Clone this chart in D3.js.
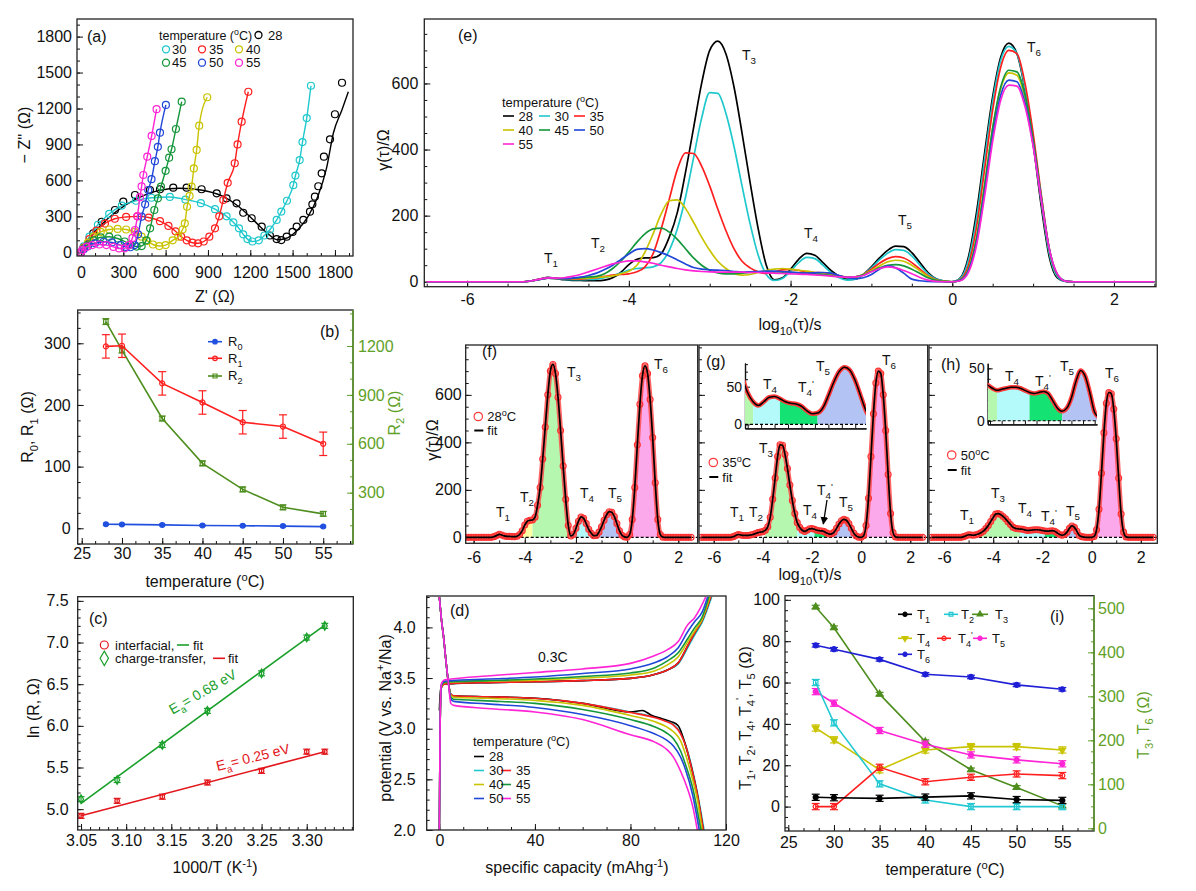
<!DOCTYPE html>
<html>
<head>
<meta charset="utf-8">
<script src="https://cdn.jsdelivr.net/npm/d3@7"></script>
<style>
  body { margin: 0; background: #fff; }
  text { font-family: "Liberation Sans", Arial, Helvetica, sans-serif; }
</style>
</head>
<body>
<script>
"use strict";

// ---------------- data ----------------
const temps = [28, 30, 35, 40, 45, 50, 55];

// (a) Nyquist plots, [Z', -Z''] in ohm
const nyq28 = [[0,0],[16,33],[87,159],[147,255],[241,353],[300,423],[383,478],[489,520],[560,526],[654,539],[749,539],[855,526],[962,492],[1032,450],[1103,409],[1150,330],[1210,284],[1281,214],[1339,140],[1387,110],[1420,102],[1458,130],[1500,170],[1529,214],[1576,270],[1623,339],[1640,400],[1658,464],[1682,551],[1706,659],[1722,798],[1765,943],[1800,1152],[1850,1415]];
const fit28 = [[0,0],[40,90],[120,200],[250,340],[400,450],[550,515],[700,535],[850,520],[1000,470],[1120,380],[1230,260],[1320,160],[1390,105],[1450,115],[1530,180],[1610,300],[1680,470],[1740,700],[1790,1000],[1850,1190],[1895,1340]];
const nyq30 = [[0,0],[20,50],[60,130],[120,230],[200,320],[290,390],[390,430],[500,455],[630,462],[740,440],[850,410],[950,360],[1032,300],[1080,250],[1120,200],[1150,150],[1180,110],[1215,90],[1260,100],[1300,140],[1340,190],[1387,270],[1420,340],[1460,430],[1505,560],[1520,640],[1550,770],[1570,920],[1600,1120],[1630,1390]];
const nyq35 = [[0,0],[20,40],[60,110],[110,180],[170,240],[240,280],[320,295],[400,300],[480,290],[560,260],[620,220],[670,175],[710,130],[750,100],[790,80],[830,75],[870,90],[910,130],[950,200],[980,300],[1009,437],[1040,580],[1090,743],[1110,900],[1139,1090],[1186,1340]];
const nyq40 = [[0,0],[20,35],[50,80],[90,130],[140,170],[200,190],[260,195],[320,190],[380,170],[430,130],[470,95],[510,65],[555,52],[600,60],[650,100],[690,130],[720,190],[736,242],[752,380],[770,470],[784,548],[800,700],[820,854],[838,1057],[895,1294]];
const nyq45 = [[0,0],[20,30],[50,65],[90,100],[140,125],[200,130],[260,115],[310,90],[350,62],[395,48],[430,52],[463,100],[490,200],[520,353],[545,450],[567,548],[600,680],[625,790],[642,860],[673,1029],[714,1257]];
const nyq50 = [[0,0],[20,25],[50,50],[100,75],[160,88],[220,82],[280,60],[320,45],[350,42],[380,60],[405,150],[430,297],[455,400],[477,520],[500,610],[524,760],[545,880],[560,998],[602,1230]];
const nyq55 = [[0,0],[10,20],[40,45],[80,60],[130,65],[180,60],[230,45],[270,32],[310,33],[340,60],[365,120],[383,186],[400,300],[418,460],[430,550],[442,645],[470,798],[501,971],[536,1194]];

// (b) fitted resistances vs temperature
const r0 = [6.5, 6.3, 5.5, 4.6, 4.2, 3.5, 2.7];
const r0Err = [1.5, 1.5, 1.5, 1.5, 1.5, 1.5, 1.5];
const r1 = [295, 296, 235, 204, 172, 165, 137];
const r1Err = [19, 19, 19, 19, 19, 19, 19];
const r2 = [1350, 1175, 755, 480, 320, 210, 170];
const r2Err = [18, 18, 15, 15, 15, 15, 15];

// (c) Arrhenius plot
const invT = [3.05, 3.09, 3.14, 3.19, 3.25, 3.30, 3.32];
const lnInterf = [4.92, 5.10, 5.15, 5.32, 5.46, 5.69, 5.69];
const lnCharge = [5.12, 5.35, 5.77, 6.18, 6.63, 7.06, 7.20];
const lnErr = [0.03, 0.03, 0.03, 0.03, 0.03, 0.03, 0.03];
const fitInvT = [3.05, 3.32];
const fitInterf = [4.92, 5.69];
const fitCharge = [5.07, 7.21];

// (d) charge / discharge curves, [capacity, potential]
const chg28 = [[0,3.18],[0.5,3.38],[1.5,3.44],[5,3.445],[20,3.455],[40,3.463],[60,3.475],[80,3.497],[90,3.535],[95.5,3.58],[100,3.65],[104,3.82],[107,3.95],[110,4.07],[113.6,4.3]];
const chg30 = [[0,2.0],[0.3,3.0],[0.8,3.4],[2,3.44],[5,3.445],[20,3.455],[40,3.463],[60,3.475],[80,3.497],[90,3.535],[95.5,3.58],[100,3.64],[104,3.8],[107,3.93],[110,4.05],[114,4.3]];
const chg35 = [[0,2.0],[0.3,3.0],[0.8,3.4],[2,3.44],[5,3.445],[20,3.455],[40,3.463],[60,3.475],[80,3.497],[90,3.535],[95.5,3.58],[100,3.65],[104,3.82],[107,3.95],[110,4.07],[113.6,4.3]];
const chg40 = [[0,2.0],[0.3,3.0],[0.8,3.41],[2,3.455],[5,3.46],[20,3.47],[40,3.48],[60,3.5],[80,3.53],[90,3.57],[95.5,3.63],[100,3.71],[104,3.86],[107,3.97],[110,4.08],[113.2,4.3]];
const chg45 = [[0,2.0],[0.3,3.0],[0.8,3.42],[2,3.46],[5,3.465],[20,3.475],[40,3.49],[60,3.515],[80,3.55],[90,3.6],[95.5,3.67],[100,3.75],[104,3.89],[107,4.0],[110,4.1],[112.8,4.3]];
const chg50 = [[0,2.0],[0.3,3.0],[0.8,3.43],[2,3.47],[5,3.475],[20,3.49],[40,3.51],[60,3.545],[80,3.59],[90,3.65],[95.5,3.71],[100,3.8],[104,3.96],[107,4.06],[110,4.15],[112.3,4.3]];
const chg55 = [[0,2.0],[0.3,3.0],[0.8,3.44],[2,3.48],[5,3.49],[20,3.52],[40,3.555],[60,3.59],[80,3.645],[90,3.72],[95.5,3.78],[100,3.86],[103.8,4.02],[107,4.1],[109,4.18],[111.5,4.3]];
const dis28 = [[0,4.3],[1,4.05],[1.7,3.92],[2.8,3.66],[3.8,3.45],[4.8,3.34],[6,3.325],[20,3.315],[40,3.30],[60,3.25],[80,3.165],[85,3.18],[89,3.13],[93,3.10],[97,3.07],[100,3.03],[103,2.84],[106,2.57],[108,2.35],[110.5,2.0]];
const dis30 = [[0,4.3],[1,4.05],[1.7,3.92],[2.8,3.66],[3.8,3.45],[4.8,3.34],[6,3.325],[20,3.315],[40,3.30],[60,3.25],[80,3.165],[90,3.115],[95,3.075],[98,3.04],[101,2.96],[103,2.85],[106,2.59],[108,2.37],[110.8,2.0]];
const dis35 = [[0,4.3],[1,4.05],[1.7,3.92],[2.8,3.66],[3.8,3.45],[4.8,3.34],[6,3.325],[20,3.315],[40,3.30],[60,3.25],[80,3.16],[90,3.11],[95,3.07],[98,3.035],[101,2.95],[103,2.84],[106,2.57],[108,2.35],[110.5,2.0]];
const dis40 = [[0,4.3],[1,4.05],[1.7,3.92],[2.8,3.66],[3.8,3.45],[4.8,3.33],[6,3.31],[20,3.30],[40,3.28],[60,3.23],[80,3.13],[90,3.07],[95,3.02],[98,2.97],[101,2.88],[103,2.75],[106,2.5],[108,2.3],[110,2.0]];
const dis45 = [[0,4.3],[1,4.05],[1.7,3.92],[2.8,3.66],[3.8,3.45],[4.8,3.31],[6,3.29],[20,3.275],[40,3.25],[60,3.19],[80,3.09],[90,3.02],[95,2.96],[98,2.9],[101,2.78],[103,2.65],[106,2.42],[109.5,2.0]];
const dis50 = [[0,4.3],[1,4.05],[1.7,3.92],[2.8,3.66],[3.8,3.45],[4.8,3.29],[6,3.27],[20,3.245],[40,3.21],[60,3.14],[80,3.03],[90,2.95],[95,2.89],[98,2.83],[101,2.72],[103,2.6],[106,2.35],[108.8,2.0]];
const dis55 = [[0,4.3],[1,4.05],[1.7,3.92],[2.8,3.66],[3.8,3.45],[4.8,3.25],[6,3.23],[20,3.2],[40,3.165],[60,3.09],[80,2.94],[90,2.87],[95,2.8],[98,2.72],[101,2.58],[104,2.4],[106,2.24],[108,2.0]];

// (e)-(h) DRT, sampled every 0.1 in log10(tau) from -6.5 to 2.5
const tauGrid = d3.range(-65, 26).map(i => i / 10);
const drt28 = [0,0,0,0,0,0,0,0,0,0,0,0,0, 3,8,13,10,6,4,4,3,3,5,12,28, 52,68,72,73,85,135,210,330,465,600, 700,728,690,590,450,300,160,50,6,12, 38,68,86,80,58,34,17,7,8,22, 45,72,95,108,106,88,58,28,9,2, 0,12,75,210,390,560,680,722,690,580, 420,230,75,12,1,0, 0,0,0,0,0,0,0,0,0,0];
const drt30 = [0,0,0,0,0,0,0,0,0,0,0,0,0, 3,8,12,10,7,6,6,7,8,12,18,26, 35,40,42,45,58,95,160,255,375,495, 572,570,510,410,290,175,80,22,4,10, 32,58,74,70,50,28,12,5,8,22, 42,66,86,97,95,78,50,24,8,2, 0,10,65,190,370,545,670,712,690,585, 430,245,85,15,1,0, 0,0,0,0,0,0,0,0,0,0];
const drt35 = [0,0,0,0,0,0,0,0,0,0,0,0,0, 3,8,12,10,8,8,8,10,12,16,20,22, 24,30,45,85,160,250,340,390,388,350, 290,220,155,100,62,42,30,25,30,36, 37,34,30,28,27,24,18,14,15,22, 38,56,70,76,72,58,38,18,6,1, 0,7,50,165,340,520,650,700,690,600, 450,265,100,20,2,0, 0,0,0,0,0,0,0,0,0,0];
const drt40 = [0,0,0,0,0,0,0,0,0,0,0,0,0, 3,7,11,10,9,9,10,11,13,15,18,24, 32,50,90,145,205,245,248,222,180,135, 95,62,40,25,20,22,28,34,38,40, 38,35,32,28,24,20,16,13,14,22, 34,48,60,65,62,50,33,16,5,1, 0,5,38,135,295,465,585,632,625,555, 420,250,95,20,2,0, 0,0,0,0,0,0,0,0,0,0];
const drt45 = [0,0,0,0,0,0,0,0,0,0,0,0,0, 3,7,11,10,9,10,12,14,16,24,40,62, 90,120,145,160,162,150,128,100,72,50, 35,27,24,24,26,28,30,30,30,29, 28,27,26,24,22,19,16,14,15,21, 31,42,50,52,48,38,25,12,4,1, 0,5,36,130,290,465,590,640,635,565, 430,260,100,22,2,0, 0,0,0,0,0,0,0,0,0,0];
const drt50 = [0,0,0,0,0,0,0,0,0,0,0,0,0, 3,7,11,10,9,11,14,19,26,37,50,67, 84,98,100,96,88,78,66,54,43,38, 36,35,34,31,29,30,31,32,32,31, 29,27,26,27,28,26,19,12,9,12, 22,38,48,42,26,8,3,1,0,0, 0,4,32,118,270,440,565,610,605,540, 415,250,98,22,2,0, 0,0,0,0,0,0,0,0,0,0];
const drt55 = [0,0,0,0,0,0,0,0,0,0,0,0,0, 3,8,12,11,12,16,22,30,38,46,54,59, 63,63,60,56,50,45,40,36,33,31, 30,29,29,29,29,28,28,27,26,25, 24,23,22,21,19,17,15,14,15,19, 30,40,45,42,34,24,13,5,1,0, 0,3,28,110,258,425,550,595,592,530, 410,250,100,24,2,0, 0,0,0,0,0,0,0,0,0,0];

// component ranges (log10 tau) used for the shaded peaks in (f)-(h)
const segF = [[-4.3,-3.7,'T2'],[-3.7,-2.2,'T3'],[-2.2,-1.3,'T4'],[-1.3,-0.1,'T5'],[0.0,1.5,'T6']];
const segG = [[-3.9,-2.6,'T3'],[-2.6,-1.9,'T4'],[-1.9,-1.2,'T4p'],[-1.2,-0.1,'T5'],[0.0,1.5,'T6']];
const segH = [[-4.6,-2.9,'T3'],[-2.9,-1.9,'T4'],[-1.9,-1.2,'T4p'],[-1.2,-0.3,'T5'],[0.0,1.5,'T6']];
const segGi = [[-2.6,-2.4,'T3'],[-2.4,-1.9,'T4'],[-1.9,-1.2,'T4p'],[-1.2,-0.3,'T5']];
const segHi = [[-2.8,-2.6,'T3'],[-2.6,-1.9,'T4'],[-1.9,-1.2,'T4p'],[-1.2,-0.4,'T5']];

// (i) peak values vs temperature
const tT1 = [4.5, 4.3, 4.0, 4.6, 5.2, 3.4, 3.0];
const tT2 = [60, 40.5, 11, 3.2, 0, 0, 0];
const tT3 = [503, 456, 305, 197, 133, 93, 51];
const tT4 = [38, 32.3, 17.8, 27.4, 29, 29, 27.4];
const tT4p = [0, 0, 19, 12, 14.2, 15.8, 15];
const tT5 = [55.6, 50, 36.8, 30.2, 25, 22.6, 20.7];
const tT6 = [416, 407, 384, 350, 344, 326, 316];
const tErrL = [1.5, 1.5, 1.5, 1.5, 1.5, 1.5, 1.5];
const tErrR = [4, 4, 4, 4, 4, 4, 4];

// ---------------- styles ----------------
const tempColors = ['#000000', '#1ec8cc', '#ff1f1f', '#c9c300', '#14963a', '#2147d9', '#ff24d5'];
const axGreen = '#5fa127';
const lineGreen = '#4e8e1e';
const compColors = { T2: '#ffffa6', T3: '#b6f7b0', T4: '#b4fafa', T4p: '#14e272', T5: '#b3c3f3', T6: '#fba9ea' };

const svg = d3.select('body').append('svg').attr('width', 1196).attr('height', 891);
const defs = svg.append('defs');

// text with _{sub} and ^{sup}
function rich(t, str, fs) {
  const re = /([_^])\{([^}]*)\}/g;
  let last = 0, cur = 0, m;
  const add = (s, off, size) => {
    if (!s) return;
    t.append('tspan').attr('dy', (off - cur).toFixed(2)).attr('font-size', size).text(s);
    cur = off;
  };
  while ((m = re.exec(str)) !== null) {
    add(str.slice(last, m.index), 0, fs);
    add(m[2], m[1] === '_' ? fs * 0.3 : -fs * 0.38, fs * 0.7);
    last = re.lastIndex;
  }
  add(str.slice(last), 0, fs);
}
function label(x, y, str, o = {}) {
  const fs = o.size || 16;
  const t = svg.append('text').attr('x', x).attr('y', y).attr('font-size', fs)
    .attr('fill', o.color || '#111').attr('text-anchor', o.anchor || 'start');
  if (o.rotate) t.attr('transform', `rotate(${o.rotate},${x},${y})`);
  rich(t, str, fs);
  return t;
}

function makePanel(b, xd, yd) {
  return { b, x: d3.scaleLinear(xd, [b.x0, b.x1]), y: d3.scaleLinear(yd, [b.y1, b.y0]) };
}
function frame(p) {
  svg.append('rect').attr('x', p.b.x0).attr('y', p.b.y0)
    .attr('width', p.b.x1 - p.b.x0).attr('height', p.b.y1 - p.b.y0)
    .attr('fill', 'none').attr('stroke', '#222').attr('stroke-width', 1.3);
}
function clipG(p, id) {
  defs.append('clipPath').attr('id', id).append('rect')
    .attr('x', p.b.x0).attr('y', p.b.y0).attr('width', p.b.x1 - p.b.x0).attr('height', p.b.y1 - p.b.y0);
  return svg.append('g').attr('clip-path', `url(#${id})`);
}
// inward ticks, labels outside
function axis(p, side, major, minor, o = {}) {
  const sc = o.scale || (side === 'bottom' ? p.x : p.y);
  const [lo, hi] = d3.extent(sc.domain());
  minor = minor.filter(v => v >= lo - 1e-9 && v <= hi + 1e-9);
  const gen = { left: d3.axisLeft, right: d3.axisRight, bottom: d3.axisBottom }[side];
  const pos = side === 'left' ? `translate(${p.b.x0},0)` : side === 'right' ? `translate(${p.b.x1},0)` : `translate(0,${p.b.y1})`;
  const color = o.color || '#111';
  const gm = svg.append('g').attr('transform', pos);
  gm.call(gen(sc).tickValues(minor).tickSize(-(o.minor || 3)).tickSizeOuter(0).tickFormat(''));
  const g = svg.append('g').attr('transform', pos);
  g.call(gen(sc).tickValues(major).tickSize(-(o.major || 6)).tickSizeOuter(0)
    .tickPadding(o.pad || 5).tickFormat(o.fmt || (d => String(d))));
  [gm, g].forEach(s => {
    if (!o.keepDomain) s.select('.domain').remove();
    s.selectAll('path.domain').attr('stroke', color).attr('stroke-width', 1.2);
    s.selectAll('line').attr('stroke', color).attr('stroke-width', 1);
    s.selectAll('text').attr('font-size', o.fs || 16).attr('fill', color)
      .attr('font-family', '"Liberation Sans", Arial, sans-serif');
  });
}
function errorBars(g, xs, ys, errs, xS, yS, color, cap) {
  xs.forEach((xv, i) => {
    const px = xS(xv), ya = yS(ys[i] - errs[i]), yb = yS(ys[i] + errs[i]);
    g.append('line').attr('x1', px).attr('x2', px).attr('y1', ya).attr('y2', yb).attr('stroke', color).attr('stroke-width', 1.2);
    [ya, yb].forEach(yy => g.append('line').attr('x1', px - cap).attr('x2', px + cap)
      .attr('y1', yy).attr('y2', yy).attr('stroke', color).attr('stroke-width', 1.2));
  });
}
const symMap = { circle: d3.symbolCircle, square: d3.symbolSquare, tri: d3.symbolTriangle, tridown: d3.symbolTriangle, diamond: d3.symbolDiamond };
function marks(g, pts, color, type, filled, size) {
  g.selectAll(null).data(pts).join('path')
    .attr('transform', d => `translate(${d[0]},${d[1]})${type === 'tridown' ? ' rotate(180)' : ''}`)
    .attr('d', d3.symbol().type(symMap[type]).size(size || 22))
    .attr('fill', filled ? color : 'none').attr('stroke', color).attr('stroke-width', 1.2);
}
function seriesLine(g, xs, ys, xS, yS, color, w) {
  g.append('path').datum(xs.map((x, i) => [x, ys[i]]))
    .attr('d', d3.line().x(d => xS(d[0])).y(d => yS(d[1])))
    .attr('fill', 'none').attr('stroke', color).attr('stroke-width', w || 1.6);
}
function legendLine(g, x0, x1, y, color, type, filled, size) {
  g.append('line').attr('x1', x0).attr('x2', x1).attr('y1', y).attr('y2', y).attr('stroke', color).attr('stroke-width', 1.6);
  if (type) marks(g, [[(x0 + x1) / 2, y]], color, type, filled, size);
}

// ---------------- panels ----------------
const pA = makePanel({ x0: 77, x1: 353, y0: 19, y1: 256 }, [-28, 1928], [-31, 1947]);
const pB = makePanel({ x0: 77.7, x1: 353, y0: 310, y1: 544 }, [24.5, 58.7], [-25.5, 354]);
pB.y2 = d3.scaleLinear([-15, 1421], [544, 310]);
const pC = makePanel({ x0: 77.7, x1: 353.3, y0: 596.7, y1: 830 }, [3.0463, 3.3516], [4.75, 7.55]);
const pD = makePanel({ x0: 426.7, x1: 726, y0: 596, y1: 830 }, [-5.3, 120], [2.0, 4.31]);
const pE = makePanel({ x0: 424.3, x1: 1156, y0: 19, y1: 286.7 }, [-6.53, 2.52], [-15, 795]);
const pF = makePanel({ x0: 465.7, x1: 697.7, y0: 345, y1: 543.3 }, [-6.31, 2.76], [-25, 810]);
const pG = makePanel({ x0: 699, x1: 927.7, y0: 345, y1: 543.3 }, [-6.6, 2.71], [-25, 810]);
const pH = makePanel({ x0: 929, x1: 1157.3, y0: 345, y1: 543.3 }, [-6.61, 2.67], [-25, 810]);
const pGi = makePanel({ x0: 745, x1: 866, y0: 363, y1: 428.3 }, [-2.55, -0.3], [-5.3, 81.5]);
const pHi = makePanel({ x0: 987.7, x1: 1097, y0: 363.3, y1: 424.3 }, [-2.8, -0.45], [-3.4, 54.8]);
const pI = makePanel({ x0: 785, x1: 1094, y0: 595.7, y1: 831 }, [24.64, 58.47], [-11.8, 102]);
pI.y2 = d3.scaleLinear([-6.1, 528.7], [831, 595.7]);
const tempMinor = d3.range(25, 58.5, 5 / 3);

// ===== (a) =====
{
  axis(pA, 'left', d3.range(0, 1801, 300), d3.range(0, 1901, 100), { pad: 5 });
  axis(pA, 'bottom', d3.range(0, 1801, 300), d3.range(0, 1901, 100), { pad: 11 });
  const g = clipG(pA, 'clipA');
  const sets = [nyq28, nyq30, nyq35, nyq40, nyq45, nyq50, nyq55];
  const line = d3.line().x(d => pA.x(d[0])).y(d => pA.y(d[1])).curve(d3.curveMonotoneX);
  sets.forEach((s, i) => {
    g.append('path').datum(i === 0 ? fit28 : s).attr('d', line).attr('fill', 'none')
      .attr('stroke', tempColors[i]).attr('stroke-width', 1.4);
    g.selectAll(null).data(s).join('circle')
      .attr('cx', d => pA.x(d[0])).attr('cy', d => pA.y(d[1])).attr('r', 3.5)
      .attr('fill', 'none').attr('stroke', tempColors[i]).attr('stroke-width', 1.2);
  });
  frame(pA);
  label(87, 42, '(a)');
  label(159, 39.5, 'temperature (^{o}C)', { size: 12.5 });
  const lg = svg.append('g');
  const pos = [[258.5, 35, 268], [166, 49.3, 172], [202, 49.3, 209], [239, 49.3, 246], [166, 62.7, 172], [202, 62.7, 209], [239, 62.7, 246]];
  temps.forEach((t, i) => {
    lg.append('circle').attr('cx', pos[i][0]).attr('cy', pos[i][1]).attr('r', 3.5)
      .attr('fill', 'none').attr('stroke', tempColors[i]).attr('stroke-width', 1.3);
    label(pos[i][2], pos[i][1] + 4.7, String(t), { size: 13 });
  });
  label(215, 302, "Z' (Ω)", { anchor: 'middle' });
  label(30, 135, "− Z'' (Ω)", { anchor: 'middle', rotate: -90 });
}

// ===== (b) =====
{
  axis(pB, 'left', [0, 100, 200, 300], d3.range(-25, 351, 25), { pad: 7 });
  axis(pB, 'right', [300, 600, 900, 1200], d3.range(0, 1401, 100), { scale: pB.y2, color: axGreen, pad: 5 });
  axis(pB, 'bottom', d3.range(25, 56, 5), tempMinor, { pad: 4 });
  const g = svg.append('g');
  seriesLine(g, temps, r2, pB.x, pB.y2, lineGreen);
  errorBars(g, temps, r2, r2Err, pB.x, pB.y2, lineGreen, 3.5);
  marks(g, temps.map((t, i) => [pB.x(t), pB.y2(r2[i])]), lineGreen, 'square', false, 20);
  seriesLine(g, temps, r1, pB.x, pB.y, '#ff1f1f');
  errorBars(g, temps, r1, r1Err, pB.x, pB.y, '#ff1f1f', 4);
  marks(g, temps.map((t, i) => [pB.x(t), pB.y(r1[i])]), '#ff1f1f', 'circle', false, 20);
  seriesLine(g, temps, r0, pB.x, pB.y, '#2150e0');
  errorBars(g, temps, r0, r0Err, pB.x, pB.y, '#2150e0', 3);
  marks(g, temps.map((t, i) => [pB.x(t), pB.y(r0[i])]), '#2150e0', 'circle', true, 18);
  frame(pB);
  svg.append('line').attr('x1', pB.b.x1).attr('x2', pB.b.x1).attr('y1', pB.b.y0).attr('y2', pB.b.y1)
    .attr('stroke', axGreen).attr('stroke-width', 1.4);
  legendLine(g, 208, 222, 341.7, '#2150e0', 'circle', true, 16);
  legendLine(g, 208, 222, 358.3, '#ff1f1f', 'circle', false, 16);
  legendLine(g, 208, 222, 376, lineGreen, 'square', false, 16);
  label(228, 346, 'R_{0}', { size: 13 });
  label(228, 362.6, 'R_{1}', { size: 13 });
  label(228, 380.3, 'R_{2}', { size: 13 });
  label(320, 337, '(b)');
  label(205, 587, 'temperature (^{o}C)', { anchor: 'middle' });
  label(33, 427, 'R_{0}, R_{1} (Ω)', { anchor: 'middle', rotate: -90 });
  label(399.5, 413, 'R_{2} (Ω)', { anchor: 'middle', rotate: -90, color: axGreen });
}

// ===== (c) =====
{
  axis(pC, 'left', d3.range(5, 7.51, 0.5), d3.range(4.8, 7.56, 0.1), { pad: 9, fmt: d3.format('.1f') });
  axis(pC, 'bottom', d3.range(3.05, 3.301, 0.05), d3.range(3.05, 3.35, 0.01), { pad: 5, fmt: d3.format('.2f') });
  const g = svg.append('g');
  seriesLine(g, fitInvT, fitCharge, pC.x, pC.y, '#19a02a', 1.6);
  seriesLine(g, fitInvT, fitInterf, pC.x, pC.y, '#e3161b', 1.6);
  errorBars(g, invT, lnCharge, lnErr, pC.x, pC.y, '#19a02a', 3.5);
  marks(g, invT.map((t, i) => [pC.x(t), pC.y(lnCharge[i])]), '#19a02a', 'diamond', false, 22);
  errorBars(g, invT, lnInterf, lnErr, pC.x, pC.y, '#e3161b', 3.5);
  marks(g, invT.map((t, i) => [pC.x(t), pC.y(lnInterf[i])]), '#e3161b', 'circle', false, 16);
  frame(pC);
  marks(g, [[104.3, 645]], '#e3161b', 'circle', false, 50);
  marks(g, [[104.3, 658.3]], '#19a02a', 'diamond', false, 60);
  label(115, 649.5, 'interfacial,', { size: 13 });
  legendLine(g, 177, 189, 645, '#19a02a');
  label(193, 649.5, 'fit', { size: 13 });
  label(115, 663, 'charge-transfer,', { size: 13 });
  legendLine(g, 213, 225, 658.3, '#e3161b');
  label(228, 663, 'fit', { size: 13 });
  label(205, 696, 'E_{a}= 0.68 eV', { size: 14, color: '#19a02a', anchor: 'middle', rotate: -30 });
  label(254, 762, 'E_{a}= 0.25 eV', { size: 14, color: '#e3161b', anchor: 'middle', rotate: -14 });
  label(89, 624, '(c)');
  label(215, 873, '1000/T (K^{-1})', { anchor: 'middle' });
  label(38.5, 708, 'ln (R, Ω)', { anchor: 'middle', rotate: -90 });
}

// ===== (d) =====
{
  axis(pD, 'left', [2.0, 2.5, 3.0, 3.5, 4.0], d3.range(2.0, 4.31, 0.1), { pad: 11, fmt: d3.format('.1f') });
  axis(pD, 'bottom', [0, 40, 80, 120], d3.range(0, 121, 10), { pad: 5 });
  const g = clipG(pD, 'clipD');
  const line = d3.line().x(d => pD.x(d[0])).y(d => pD.y(d[1])).curve(d3.curveMonotoneX);
  const chg = [chg28, chg30, chg35, chg40, chg45, chg50, chg55];
  const dis = [dis28, dis30, dis35, dis40, dis45, dis50, dis55];
  const order = [1, 0, 2, 3, 4, 5, 6];
  order.forEach(i => {
    g.append('path').datum(chg[i]).attr('d', line).attr('fill', 'none').attr('stroke', tempColors[i]).attr('stroke-width', 1.6);
    g.append('path').datum(dis[i]).attr('d', line).attr('fill', 'none').attr('stroke', tempColors[i]).attr('stroke-width', 1.6);
  });
  frame(pD);
  label(450, 615.5, '(d)');
  label(538, 661.5, '0.3C', { size: 14 });
  label(473, 746, 'temperature (^{o}C)', { size: 13 });
  const lg = svg.append('g');
  const pos = [[474, 756.5], [474, 770.5], [501, 770.5], [474, 784.5], [501, 784.5], [474, 798.5], [501, 798.5]];
  temps.forEach((t, i) => {
    legendLine(lg, pos[i][0], pos[i][0] + 10, pos[i][1], tempColors[i]);
    label(pos[i][0] + 15, pos[i][1] + 4.6, String(t), { size: 13 });
  });
  label(577, 873, 'specific capacity (mAhg^{-1})', { anchor: 'middle' });
  label(390.5, 718, 'potential (V vs. Na^{+}/Na)', { anchor: 'middle', rotate: -90 });
}

// ===== (e) =====
{
  axis(pE, 'left', [0, 200, 400, 600], d3.range(0, 790, 50), { pad: 6 });
  axis(pE, 'bottom', [-6, -4, -2, 0, 2], d3.range(-6.5, 2.51, 0.5), { pad: 7 });
  const g = clipG(pE, 'clipE');
  const sets = [drt28, drt30, drt35, drt40, drt45, drt50, drt55];
  const line = d3.line().x((d, i) => pE.x(tauGrid[i])).y(d => pE.y(d)).curve(d3.curveMonotoneX);
  sets.forEach((s, i) => {
    g.append('path').datum(s).attr('d', line).attr('fill', 'none').attr('stroke', tempColors[i]).attr('stroke-width', 1.7);
  });
  frame(pE);
  label(458, 40.5, '(e)');
  label(502, 107, 'temperature (^{o}C)', { size: 13 });
  const lg = svg.append('g');
  const pos = [[503, 116], [539, 116], [574, 116], [503, 130], [539, 130], [574, 130], [503, 144]];
  temps.forEach((t, i) => {
    legendLine(lg, pos[i][0], pos[i][0] + 11, pos[i][1], tempColors[i]);
    label(pos[i][0] + 15.5, pos[i][1] + 4.6, String(t), { size: 13 });
  });
  [['T_{1}', 551, 263], ['T_{2}', 598, 248], ['T_{3}', 749, 60], ['T_{4}', 811, 238], ['T_{5}', 905, 225], ['T_{6}', 1034, 52]]
    .forEach(d => label(d[1], d[2], d[0], { size: 14, anchor: 'middle' }));
  label(790, 330, 'log_{10}(τ)/s', { anchor: 'middle' });
  label(389, 150, 'γ(τ)/Ω', { anchor: 'middle', rotate: -90 });
}

// ===== (f), (g), (h) =====
function drtPanel(p, id, vals, segs, showLabels) {
  axis(p, 'left', [0, 200, 400, 600], d3.range(0, 801, 50), { pad: 4, fmt: showLabels ? (d => String(d)) : (() => '') });
  axis(p, 'bottom', [-6, -4, -2, 0, 2], d3.range(-6, 2.6, 1), { pad: 8 });
  const g = clipG(p, id);
  const pts = tauGrid.map((t, i) => [t, vals[i]]);
  const area = d3.area().x(d => p.x(d[0])).y0(p.y(0)).y1(d => p.y(d[1])).curve(d3.curveMonotoneX);
  const line = d3.line().x(d => p.x(d[0])).y(d => p.y(d[1])).curve(d3.curveMonotoneX);
  segs.forEach(s => {
    const sub = pts.filter(d => d[0] >= s[0] - 1e-6 && d[0] <= s[1] + 1e-6);
    g.append('path').datum(sub).attr('d', area).attr('fill', compColors[s[2]]);
  });
  g.append('line').attr('x1', p.b.x0).attr('x2', p.b.x1).attr('y1', p.y(0)).attr('y2', p.y(0))
    .attr('stroke', '#000').attr('stroke-width', 1.2).attr('stroke-dasharray', '3,2');
  // measured DRT: dense red open circles
  g.append('path').datum(pts).attr('d', line).attr('fill', 'none')
    .attr('stroke', '#ff4a4a').attr('stroke-width', 5).attr('stroke-opacity', 0.85);
  g.selectAll(null).data(pts).join('circle')
    .attr('cx', d => p.x(d[0])).attr('cy', d => p.y(d[1])).attr('r', 3)
    .attr('fill', 'none').attr('stroke', '#ff3030').attr('stroke-width', 1.1);
  g.append('path').datum(pts).attr('d', line)
    .attr('fill', 'none').attr('stroke', '#000').attr('stroke-width', 1.7);
  frame(p);
}
function insetPanel(p, id, vals, segs) {
  axis(p, 'left', [0, 50], d3.range(0, 81, 10), { pad: 3, fs: 14, keepDomain: true, major: 5 });
  axis(p, 'bottom', [], d3.range(-2.75, -0.3, 0.25), { keepDomain: true, minor: 4 });
  const g = clipG(p, id);
  const pts = tauGrid.map((t, i) => [t, vals[i]]);
  const area = d3.area().x(d => p.x(d[0])).y0(p.y(0)).y1(d => p.y(d[1])).curve(d3.curveMonotoneX);
  segs.forEach(s => {
    const sub = pts.filter(d => d[0] >= s[0] - 1e-6 && d[0] <= s[1] + 1e-6);
    g.append('path').datum(sub).attr('d', area).attr('fill', compColors[s[2]]);
  });
  g.append('line').attr('x1', p.b.x0).attr('x2', p.b.x1).attr('y1', p.y(0)).attr('y2', p.y(0))
    .attr('stroke', '#000').attr('stroke-width', 1.2).attr('stroke-dasharray', '3,2');
  const line = d3.line().x(d => p.x(d[0])).y(d => p.y(d[1])).curve(d3.curveMonotoneX);
  const vis = pts.filter(d => d[0] >= p.x.domain()[0] - 0.11 && d[0] <= p.x.domain()[1] + 0.11);
  g.append('path').datum(vis).attr('d', line).attr('fill', 'none').attr('stroke', '#ff3a3a').attr('stroke-width', 4.5);
  g.append('path').datum(vis).attr('d', line).attr('fill', 'none').attr('stroke', '#000').attr('stroke-width', 1.5);
}
drtPanel(pF, 'clipF', drt28, segF, true);
drtPanel(pG, 'clipG', drt35, segG, false);
drtPanel(pH, 'clipH', drt50, segH, false);
insetPanel(pGi, 'clipGi', drt35, segGi);
insetPanel(pHi, 'clipHi', drt50, segHi);
{
  const g = svg.append('g');
  label(482, 357, '(f)');
  label(706, 367, '(g)');
  label(941, 370, '(h)');
  const leg = [[478.3, 416.5, '28^{o}C', 430.5], [713.3, 462.5, '35^{o}C', 477], [951.7, 455, '50^{o}C', 470]];
  leg.forEach(d => {
    g.append('circle').attr('cx', d[0]).attr('cy', d[1]).attr('r', 4.2).attr('fill', 'none').attr('stroke', '#ff3a3a').attr('stroke-width', 1.2);
    label(d[0] + 9, d[1] + 4.5, d[2], { size: 13 });
    g.append('line').attr('x1', d[0] - 4).attr('x2', d[0] + 5).attr('y1', d[3]).attr('y2', d[3]).attr('stroke', '#000').attr('stroke-width', 2);
    label(d[0] + 9, d[3] + 4.5, 'fit', { size: 13 });
  });
  const tl = [
    ['T_{1}', 503, 517], ['T_{2}', 527, 502], ['T_{3}', 574, 377], ['T_{4}', 587, 498], ['T_{5}', 615, 498], ['T_{6}', 661, 369],
    ['T_{1}', 737, 517], ['T_{2}', 756, 517], ['T_{3}', 766, 453], ['T_{4}', 810, 515], ["T_{4}^{'}", 825, 495], ['T_{5}', 846, 507], ['T_{6}', 889, 365],
    ['T_{4}', 770, 389], ["T_{4}^{'}", 806, 392], ['T_{5}', 823, 371],
    ['T_{1}', 967, 520], ['T_{3}', 998, 498], ['T_{4}', 1025, 513], ["T_{4}^{'}", 1049, 521], ['T_{5}', 1073, 516], ['T_{6}', 1112, 378],
    ['T_{4}', 1012, 381], ["T_{4}^{'}", 1043, 386], ['T_{5}', 1067, 371]
  ];
  tl.forEach(d => label(d[1], d[2], d[0], { size: 14, anchor: 'middle' }));
  defs.append('marker').attr('id', 'arrow').attr('viewBox', '0 0 10 10').attr('refX', 9).attr('refY', 5)
    .attr('markerWidth', 6).attr('markerHeight', 6).attr('orient', 'auto')
    .append('path').attr('d', 'M0,0 L10,5 L0,10 z').attr('fill', '#000');
  g.append('line').attr('x1', 827).attr('y1', 500).attr('x2', 823.3).attr('y2', 524)
    .attr('stroke', '#000').attr('stroke-width', 1.3).attr('marker-end', 'url(#arrow)');
  label(810, 580, 'log_{10}(τ)/s', { anchor: 'middle' });
  label(437.5, 440, 'γ(τ)/Ω', { anchor: 'middle', rotate: -90 });
}

// ===== (i) =====
{
  axis(pI, 'left', d3.range(0, 101, 20), d3.range(-10, 101, 5), { pad: 5 });
  axis(pI, 'right', d3.range(0, 501, 100), d3.range(0, 521, 25), { scale: pI.y2, color: axGreen, pad: 4 });
  axis(pI, 'bottom', d3.range(25, 56, 5), tempMinor, { pad: 6 });
  const g = svg.append('g');
  const sers = [
    [tT3, pI.y2, lineGreen, 'tri', true, tErrR],
    [tT6, pI.y2, '#1f1fd6', 'circle', true, tErrR],
    [tT4, pI.y, '#c9c400', 'tridown', true, tErrL],
    [tT5, pI.y, '#ff24d5', 'circle', true, tErrL],
    [tT2, pI.y, '#22c8d2', 'square', false, tErrL],
    [tT4p, pI.y, '#ff1f1f', 'circle', false, tErrL],
    [tT1, pI.y, '#000000', 'circle', true, tErrL]
  ];
  sers.forEach(s => {
    seriesLine(g, temps, s[0], pI.x, s[1], s[2]);
    errorBars(g, temps, s[0], s[5], pI.x, s[1], s[2], 4);
    marks(g, temps.map((t, i) => [pI.x(t), s[1](s[0][i])]), s[2], s[3], s[4], 20);
  });
  frame(pI);
  svg.append('line').attr('x1', pI.b.x1).attr('x2', pI.b.x1).attr('y1', pI.b.y0).attr('y2', pI.b.y1)
    .attr('stroke', axGreen).attr('stroke-width', 1.4);
  const lg = [
    [898, 912, 614.3, '#000000', 'circle', true, 'T_{1}', 917],
    [944, 958, 614.3, '#22c8d2', 'square', false, 'T_{2}', 961],
    [972, 988, 614.3, lineGreen, 'tri', true, 'T_{3}', 995],
    [898, 912, 638.3, '#c9c400', 'tridown', true, 'T_{4}', 917],
    [937, 951, 638.3, '#ff1f1f', 'circle', false, "T_{4}^{'}", 958],
    [973, 987, 638.3, '#ff24d5', 'circle', true, 'T_{5}', 992],
    [898, 912, 654.3, '#1f1fd6', 'circle', true, 'T_{6}', 917]
  ];
  lg.forEach(d => {
    legendLine(g, d[0], d[1], d[2], d[3], d[4], d[5], 14);
    label(d[7], d[2] + 4.5, d[6], { size: 13 });
  });
  label(1050, 622, '(i)');
  label(945, 875, 'temperature (^{o}C)', { anchor: 'middle' });
  label(750.5, 718, "T_{1}, T_{2}, T_{4}, T_{4}^{'}, T_{5} (Ω)", { anchor: 'middle', rotate: -90 });
  label(1148.5, 725, 'T_{3}, T_{6} (Ω)', { anchor: 'middle', rotate: -90, color: axGreen });
}
</script>
</body>
</html>
